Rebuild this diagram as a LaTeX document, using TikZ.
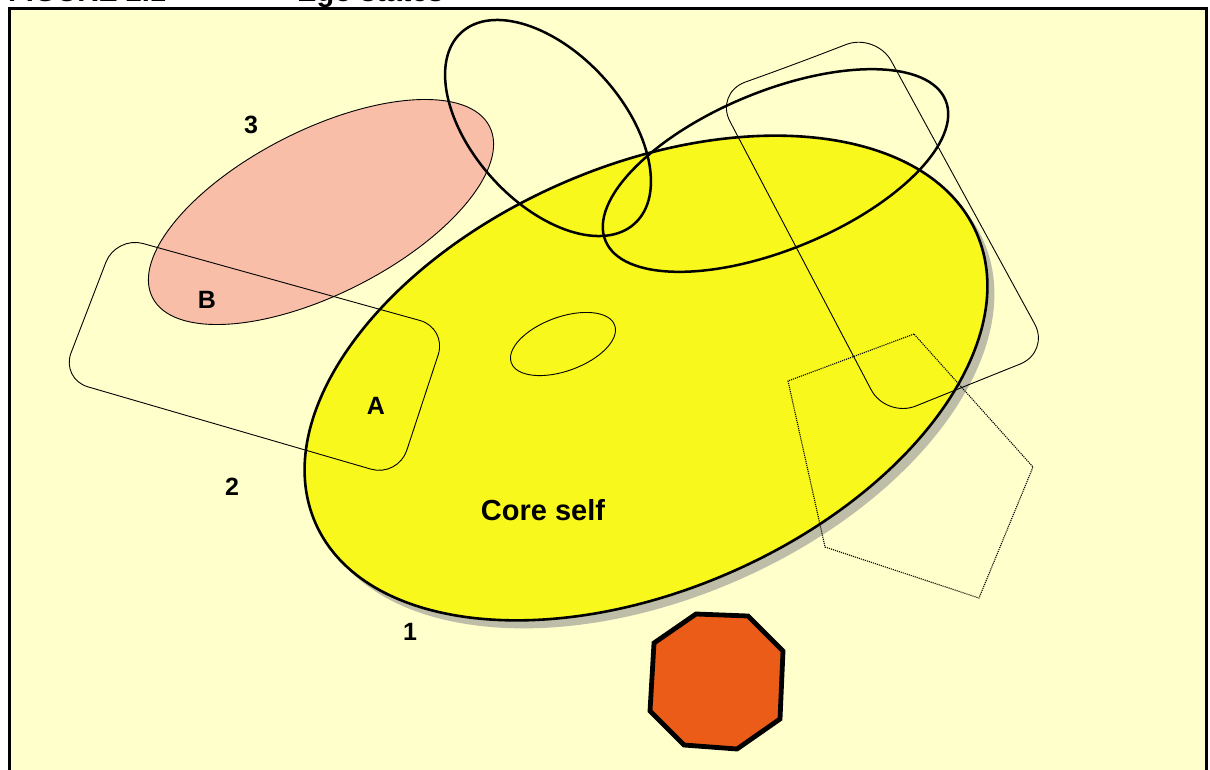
\documentclass[tikz,border=0pt]{standalone}
\usepackage{fontspec}
\setmainfont{Liberation Sans}
\definecolor{bgyellow}{RGB}{255,255,204}
\definecolor{corefill}{RGB}{248,248,28}
\definecolor{shadowgray}{RGB}{190,190,168}
\definecolor{pinkfill}{RGB}{248,190,168}
\definecolor{octfill}{RGB}{235,92,24}
\begin{document}
\begin{tikzpicture}[x=1pt,y=-1pt,
  thinline/.style={line width=0.9pt},
  thickline/.style={line width=2.5pt},
  lbl/.style={font=\bfseries\fontsize{25}{25}\selectfont, inner sep=0pt},
  titletext/.style={font=\bfseries\fontsize{29}{29}\selectfont, inner sep=0pt, anchor=base west},
]
\useasboundingbox (0,0) rectangle (1210,769);
\fill[white] (0,0) rectangle (1210,769);
% title (cut off at the top)
\node[titletext] (figno) at (8,1) {FIGURE 2.1};
\node[titletext] (figname) at (297,1) {Ego states};
% frame
\draw[line width=3pt, fill=bgyellow] (9,8) rectangle (1206,800);
% pink ellipse (3)
\draw[thinline, fill=pinkfill, rotate around={26.9:(321,212)}] (321,212) ellipse [x radius=189pt, y radius=82pt];
% core self shadow and ellipse
\fill[shadowgray, rotate around={23.7:(653,386)}] (653,386) ellipse [x radius=361pt, y radius=212pt];
\draw[line width=2.6pt, fill=corefill, rotate around={23.7:(646,378)}] (646,378) ellipse [x radius=361pt, y radius=212pt];
% small inner ellipse
\draw[thinline, rotate around={20:(563,344)}] (563,344) ellipse [x radius=55pt, y radius=27pt];
% left rounded rectangle (2)
\coordinate (l0) at (88.5,307.5);
\coordinate (l1) at (116,236);
\coordinate (l2) at (447,328);
\coordinate (l3) at (398,477);
\coordinate (l4) at (61,379);
\draw[thinline, rounded corners=28pt] (l0) -- (l1) -- (l2) -- (l3) -- (l4) -- cycle;
% right rounded rectangle
\coordinate (r0) at (795.5,64);
\coordinate (r1) at (876,33);
\coordinate (r2) at (1050,352);
\coordinate (r3) at (886,418);
\coordinate (r4) at (715,93);
\draw[thinline, rounded corners=32pt] (r0) -- (r1) -- (r2) -- (r3) -- (r4) -- cycle;
% thick outline ellipses
\draw[thickline, rotate around={-47.8:(548,128)}] (548,128) ellipse [x radius=129pt, y radius=75pt];
\draw[thickline, rotate around={22.45:(775.5,170.5)}] (775.5,170.5) ellipse [x radius=184pt, y radius=79pt];
% dotted pentagon
\coordinate (p1) at (914,334);
\coordinate (p2) at (788,381);
\coordinate (p3) at (825,547);
\coordinate (p4) at (979,598);
\coordinate (p5) at (1033,467);
\draw[line width=1.1pt, densely dotted] (p1) -- (p2) -- (p3) -- (p4) -- (p5) -- cycle;
% octagon
\coordinate (o1) at (696,614);
\coordinate (o2) at (748,616);
\coordinate (o3) at (783,651);
\coordinate (o4) at (780,719);
\coordinate (o5) at (737,749);
\coordinate (o6) at (684,745);
\coordinate (o7) at (650,711);
\coordinate (o8) at (654,643);
\draw[line width=4.8pt, fill=octfill, line join=miter] (o1) -- (o2) -- (o3) -- (o4) -- (o5) -- (o6) -- (o7) -- (o8) -- cycle;
% labels
\node[lbl] (lab3) at (251,125) {3};
\node[lbl] (labB) at (207,300) {B};
\node[lbl] (labA) at (376,406) {A};
\node[lbl] (lab2) at (232,487) {2};
\node[lbl] (lab1) at (410,632) {1};
\node[lbl, font=\bfseries\fontsize{29}{29}\selectfont] (core) at (543,510) {Core self};
\end{tikzpicture}
\end{document}
